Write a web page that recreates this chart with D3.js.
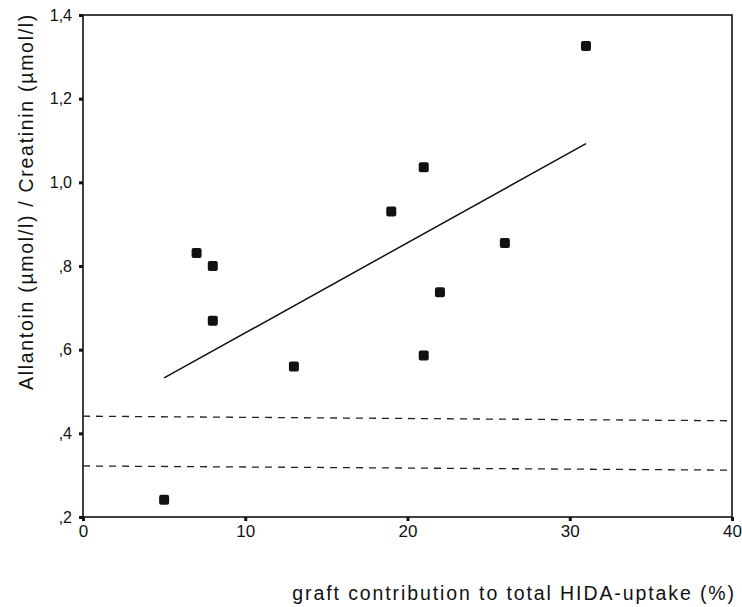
<!DOCTYPE html>
<html>
<head>
<meta charset="utf-8">
<script src="https://cdn.jsdelivr.net/npm/d3@7"></script>
<style>
  body { margin: 0; background: #fff; }
  svg text { font-family: "Liberation Sans", Arial, sans-serif; fill: #111; }
</style>
</head>
<body>
<svg id="chart"></svg>
<script>
// ====== DATA ======
const graftContribution = [5, 7, 8, 8, 13, 19, 21, 21, 22, 26, 31];
const allantoinRatio = [0.241, 0.831, 0.800, 0.669, 0.560, 0.930, 1.036, 0.586, 0.737, 0.855, 1.326];
// reference (normal range) lines, endpoints
const upperRef = [{x: 0, y: 0.441}, {x: 40, y: 0.430}];
const lowerRef = [{x: 0, y: 0.322}, {x: 40, y: 0.312}];
const xTicks = [0, 10, 20, 30, 40];
const yTicks = [0.2, 0.4, 0.6, 0.8, 1.0, 1.2, 1.4];

const width = 742, height = 607;
const margin = {left: 83, right: 10, top: 15, bottom: 90};

const svg = d3.select("#chart").attr("width", width).attr("height", height);

const xs = d3.scaleLinear().domain([0, 40]).range([margin.left, width - margin.right]);
const ys = d3.scaleLinear().domain([0.2, 1.4]).range([height - margin.bottom, margin.top]);

// spss style tick label: 1,4  ,8
function fmtY(v) {
    let s = d3.format(".1f")(v).replace(".", ",");
    if (s.startsWith("0")) s = s.slice(1);
    return s;
}

// ====== FRAME ======
const g = svg.append("g");
g.append("rect")
    .attr("x", xs(0)).attr("y", ys(1.4))
    .attr("width", xs(40) - xs(0)).attr("height", ys(0.2) - ys(1.4))
    .attr("fill", "none").attr("stroke", "#111").attr("stroke-width", 1.6);

// ====== AXES ======
const yAxis = g.append("g")
    .attr("transform", "translate(" + xs(0) + ",0)")
    .call(d3.axisLeft(ys).tickValues(yTicks).tickFormat(fmtY).tickSize(4).tickPadding(7));
yAxis.select(".domain").remove();
yAxis.selectAll("line").attr("stroke", "#111").attr("stroke-width", 3);
yAxis.selectAll("text").style("font-size", "16px");

const xAxis = g.append("g")
    .attr("transform", "translate(0," + ys(0.2) + ")")
    .call(d3.axisBottom(xs).tickValues(xTicks).tickSize(4).tickPadding(4));
xAxis.select(".domain").remove();
xAxis.selectAll("line").attr("stroke", "#111").attr("stroke-width", 3);
xAxis.selectAll("text").style("font-size", "17px");

// ====== REFERENCE LINES ======
const refLine = d3.line().x(d => xs(d.x)).y(d => ys(d.y));
[upperRef, lowerRef].forEach(r => {
    g.append("path")
        .datum(r)
        .attr("d", refLine)
        .attr("fill", "none")
        .attr("stroke", "#222")
        .attr("stroke-width", 1.3)
        .attr("stroke-dasharray", "7,6");
});

// ====== FIT LINE (least squares) ======
const pts = graftContribution.map((x, i) => ({x: x, y: allantoinRatio[i]}));
const mx = d3.mean(pts, d => d.x), my = d3.mean(pts, d => d.y);
const slope = d3.sum(pts, d => (d.x - mx) * (d.y - my)) / d3.sum(pts, d => (d.x - mx) * (d.x - mx));
const icpt = my - slope * mx;
const xExt = d3.extent(pts, d => d.x);
g.append("path")
    .datum(xExt.map(x => ({x: x, y: icpt + slope * x})))
    .attr("d", refLine)
    .attr("fill", "none")
    .attr("stroke", "#111")
    .attr("stroke-width", 1.5);

// ====== POINTS ======
g.selectAll("rect.pt")
    .data(pts)
    .enter().append("rect")
    .attr("class", "pt")
    .attr("x", d => xs(d.x) - 5)
    .attr("y", d => ys(d.y) - 5)
    .attr("width", 10).attr("height", 10)
    .attr("rx", 2)
    .attr("fill", "#111");

// ====== AXIS LABELS ======
svg.append("text")
    .attr("text-anchor", "end")
    .attr("x", 736)
    .attr("y", 600)
    .style("font-size", "19.5px")
    .style("letter-spacing", "1.9px")
    .text("graft contribution to total HIDA-uptake (%)");

svg.append("text")
    .attr("text-anchor", "start")
    .attr("transform", "translate(33,390)rotate(-90)")
    .style("font-size", "19.5px")
    .style("letter-spacing", "1.7px")
    .text("Allantoin (µmol/l) / Creatinin (µmol/l)");
</script>
</body>
</html>
